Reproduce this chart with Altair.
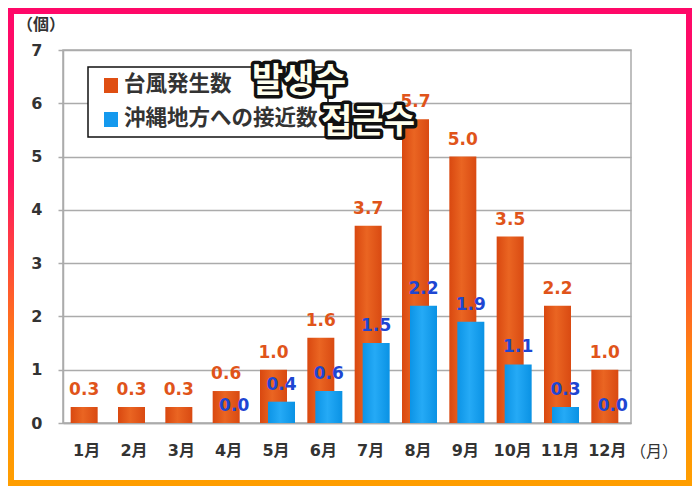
import altair as alt
import pandas as pd

months = ["1月", "2月", "3月", "4月", "5月", "6月", "7月", "8月", "9月", "10月", "11月", "12月"]
genesis = [0.3, 0.3, 0.3, 0.6, 1.0, 1.6, 3.7, 5.7, 5.0, 3.5, 2.2, 1.0]
approach = [None, None, None, 0.0, 0.4, 0.6, 1.5, 2.2, 1.9, 1.1, 0.3, 0.0]
series = ["台風発生数", "沖縄地方への接近数"]
overlay_labels = ["발생수", "접근수"]
y_ticks = [0, 1, 2, 3, 4, 5, 6, 7]
y_unit = "（個）"
x_unit = "（月）"

df = pd.DataFrame({"month": months, "genesis": genesis, "approach": approach})
one = pd.DataFrame({"k": [0]})

ORANGE_TXT = "#E0541A"
BLUE_TXT = "#1E46D2"
GRID = "#ABABAB"
NUM_FONT = "DejaVu Sans"
JP_FONT = "Noto Sans CJK JP"

orange_grad = alt.Gradient(
    gradient="linear",
    stops=[alt.GradientStop(color="#D94810", offset=0),
           alt.GradientStop(color="#EA6522", offset=0.45),
           alt.GradientStop(color="#D94A12", offset=1)],
    x1=0, x2=1, y1=0, y2=0)
blue_grad = alt.Gradient(
    gradient="linear",
    stops=[alt.GradientStop(color="#0C94E6", offset=0),
           alt.GradientStop(color="#25AAF6", offset=0.45),
           alt.GradientStop(color="#0A92E4", offset=1)],
    x1=0, x2=1, y1=0, y2=0)
frame_grad = alt.Gradient(
    gradient="linear",
    stops=[alt.GradientStop(color="#FF0868", offset=0),
           alt.GradientStop(color="#FF1262", offset=0.35),
           alt.GradientStop(color="#FF8A0A", offset=0.75),
           alt.GradientStop(color="#FF9E00", offset=1)],
    x1=0, x2=0, y1=0, y2=1)

x_enc = alt.X("month:N", sort=months,
              scale=alt.Scale(paddingInner=0, paddingOuter=0),
              axis=alt.Axis(title=None, labelAngle=0, ticks=False, grid=False,
                            domainColor=GRID, domainWidth=1.5,
                            labelFont=NUM_FONT + ", " + JP_FONT, labelFontSize=16,
                            labelFontWeight="bold", labelColor="#333333",
                            labelPadding=19))
y_scale = alt.Scale(domain=[0, 7], nice=False, zero=True)
y_axis = alt.Axis(title=None, values=y_ticks, format="d", grid=True, gridColor=GRID,
                  gridWidth=1.5, domainColor=GRID, domainWidth=1.5, tickColor=GRID,
                  tickWidth=1.5, tickSize=5, labelFont=NUM_FONT, labelFontSize=16,
                  labelFontWeight="bold", labelColor="#333333", labelPadding=16)

OFF_O = -2.5
OFF_B = 5.5

frame = alt.Chart(one).mark_rect(filled=False, stroke=frame_grad, strokeWidth=6).encode(
    x=alt.value(-52), x2=alt.value(626), y=alt.value(-39), y2=alt.value(433))

bars_o = alt.Chart(df).mark_bar(width=27, xOffset=OFF_O, fill=orange_grad).encode(
    x=x_enc, y=alt.Y("genesis:Q", scale=y_scale, axis=y_axis))
bars_b = alt.Chart(df).mark_bar(width=27, xOffset=OFF_B, fill=blue_grad).encode(
    x=alt.X("month:N", sort=months), y=alt.Y("approach:Q"))

lab_o = alt.Chart(df).mark_text(xOffset=OFF_O, dy=-12, baseline="alphabetic",
                                font=NUM_FONT, fontSize=17, fontWeight="bold",
                                color=ORANGE_TXT).encode(
    x=alt.X("month:N", sort=months), y=alt.Y("genesis:Q"),
    text=alt.Text("genesis:Q", format=".1f"))
lab_b = alt.Chart(df).mark_text(xOffset=OFF_B, dy=-12, baseline="alphabetic",
                                font=NUM_FONT, fontSize=17, fontWeight="bold",
                                color=BLUE_TXT).encode(
    x=alt.X("month:N", sort=months), y=alt.Y("approach:Q"),
    text=alt.Text("approach:Q", format=".1f"))

legend_box = alt.Chart(one).mark_rect(fill="white", stroke="#111111", strokeWidth=1.5).encode(
    x=alt.value(25), x2=alt.value(265), y=alt.value(17), y2=alt.value(87))
sq_o = alt.Chart(one).mark_rect(fill="#DF4E12").encode(
    x=alt.value(41), x2=alt.value(55), y=alt.value(28), y2=alt.value(43))
sq_b = alt.Chart(one).mark_rect(fill="#1499EE").encode(
    x=alt.value(41), x2=alt.value(55), y=alt.value(62), y2=alt.value(77))
leg_t1 = alt.Chart(one).mark_text(text=series[0], align="left", baseline="middle",
                                  font=JP_FONT, fontSize=21.5, fontWeight="bold",
                                  color="#333333").encode(x=alt.value(61), y=alt.value(35))
leg_t2 = alt.Chart(one).mark_text(text=series[1], align="left", baseline="middle",
                                  font=JP_FONT, fontSize=21.5, fontWeight="bold",
                                  color="#333333").encode(x=alt.value(61), y=alt.value(69))


def outlined(txt, cx, cy):
    base = dict(text=txt, align="center", baseline="middle",
                font="Noto Sans CJK KR", fontSize=34, fontWeight="bold")
    back = alt.Chart(one).mark_text(fill="#111111", stroke="#111111", strokeWidth=7,
                                    strokeJoin="round", **base).encode(
        x=alt.value(cx), y=alt.value(cy))
    front = alt.Chart(one).mark_text(fill="#FFFFEE", **base).encode(
        x=alt.value(cx), y=alt.value(cy))
    return back + front


ko1 = outlined(overlay_labels[0], 236, 32)
ko2 = outlined(overlay_labels[1], 305, 73)

unit_y = alt.Chart(one).mark_text(text=y_unit, align="center", baseline="middle",
                                  font=JP_FONT, fontSize=16, fontWeight="bold",
                                  color="#333333").encode(x=alt.value(-22), y=alt.value(-25))
unit_x = alt.Chart(one).mark_text(text=x_unit, align="center", baseline="middle",
                                  font=JP_FONT, fontSize=16, fontWeight="normal",
                                  color="#333333").encode(x=alt.value(591), y=alt.value(402))

chart = alt.layer(
    frame, bars_o, bars_b, lab_o, lab_b, legend_box, sq_o, sq_b, leg_t1, leg_t2,
    ko1, ko2, unit_y, unit_x
).properties(
    width=568, height=373,
    padding={"left": 55, "top": 42, "right": 61, "bottom": 63},
    autosize=alt.AutoSizeParams(type="none"),
    background="white",
).configure_view(stroke=GRID, strokeWidth=1.5)

chart.save("out.html", embed_options={"renderer": "svg", "actions": False})
